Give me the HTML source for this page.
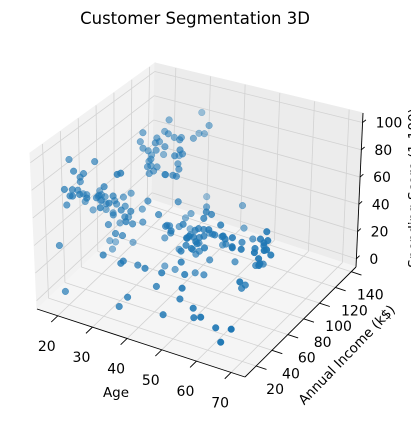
<!DOCTYPE html>
<html><head><meta charset="utf-8"><style>
html,body{margin:0;padding:0;background:#fff;}
svg{display:block;font-family:"DejaVu Sans","Liberation Sans",sans-serif;}
</style></head><body>
<svg id="chart" width="411" height="421" viewBox="0 0 411 421">
<text x="195" y="24" text-anchor="middle" font-size="16.5" fill="#000">Customer Segmentation 3D</text>
<g id="panes"></g>
<g id="grid"></g>
<g id="axes"></g>
<g id="pts"></g>
<text x="116" y="397" text-anchor="middle" font-size="13.5">Age</text>
<text transform="translate(350,358) rotate(-46)" text-anchor="middle" font-size="13.5">Annual Income (k$)</text>
<text transform="translate(418,188) rotate(-90)" text-anchor="middle" font-size="13.5">Spending Score (1-100)</text>
</svg>
<script>
const ages=[19,21,20,23,31,22,35,23,64,30,67,35,58,24,37,22,35,20,52,35,35,25,46,31,54,29,45,35,40,23,60,21,53,18,49,21,42,30,36,20,65,24,48,31,49,24,50,27,29,31,49,33,31,59,50,47,51,69,27,53,70,19,67,54,63,18,43,68,19,32,70,47,60,60,59,26,45,40,23,49,57,38,67,46,21,48,55,22,34,50,68,18,48,40,32,24,47,27,48,20,23,49,67,26,49,21,66,54,68,66,65,19,38,19,18,19,63,49,51,50,27,38,40,39,23,31,43,40,59,38,47,39,25,31,20,29,44,32,19,35,57,32,28,32,25,28,48,32,34,34,43,39,44,38,47,27,37,30,34,30,56,29,19,31,50,36,42,33,36,32,40,28,36,36,52,30,58,27,59,35,37,32,46,29,41,30,54,28,41,36,34,32,33,38,47,35,45,32,32,30];
const incomes=[15,15,16,16,17,17,18,18,19,19,19,19,20,20,20,20,21,21,23,23,24,24,25,25,28,28,28,28,29,29,30,30,33,33,33,33,34,34,37,37,38,38,39,39,39,39,40,40,40,40,42,42,43,43,43,43,44,44,46,46,46,46,47,47,48,48,48,48,48,48,49,49,50,50,54,54,54,54,54,54,54,54,54,54,54,54,57,57,58,58,59,59,60,60,60,60,60,60,61,61,62,62,62,62,62,62,63,63,63,63,63,63,64,64,65,65,65,65,67,67,67,67,69,69,70,70,71,71,71,71,71,71,72,72,73,73,73,73,74,74,75,75,76,76,77,77,77,77,78,78,78,78,78,78,78,78,78,78,78,78,79,79,81,81,85,85,86,86,87,87,87,87,87,87,88,88,88,88,93,93,97,97,98,98,99,99,101,101,103,103,103,103,113,113,120,120,126,126,137,137];
const scores=[39,81,6,77,40,76,6,94,3,72,14,99,15,77,13,79,35,66,29,98,35,73,5,73,14,82,32,61,31,87,4,73,4,92,14,81,17,73,26,75,35,92,36,61,28,65,55,47,42,42,52,60,54,60,45,41,50,46,51,46,56,55,52,59,51,59,50,48,59,47,55,42,49,56,47,54,53,48,52,42,51,55,41,44,57,46,58,55,60,46,55,41,49,40,42,52,47,50,42,49,41,48,59,55,56,42,50,46,43,48,52,54,42,46,48,50,43,59,43,57,56,40,58,91,29,77,35,95,11,75,9,75,34,71,5,88,7,73,10,72,5,93,40,87,12,97,36,74,22,90,17,88,20,76,16,89,1,78,1,73,35,83,5,93,26,75,20,95,27,63,13,75,10,92,13,86,15,69,14,90,32,86,15,88,39,97,24,68,17,85,23,69,8,91,16,79,28,74,18,83];
const xTicks=[20,30,40,50,60,70];
const yTicks=[20,40,60,80,100,120,140];
const zTicks=[0,20,40,60,80,100];
const XL=[14,74],YL=[6,146],ZL=[-6,107];
const C=[[[[37,309],[30,153]],[[152,200],[155,63]]],[[[245,377],[246,206]],[[356,267],[363,113]]]];
function P(x,y,z){
 const u=(x-XL[0])/(XL[1]-XL[0]),v=(y-YL[0])/(YL[1]-YL[0]),w=(z-ZL[0])/(ZL[1]-ZL[0]);
 const r=[0,0];
 for(let i=0;i<2;i++)for(let j=0;j<2;j++)for(let k=0;k<2;k++){
  const f=(i?u:1-u)*(j?v:1-v)*(k?w:1-w);
  r[0]+=f*C[i][j][k][0];r[1]+=f*C[i][j][k][1];
 }
 return r;
}
const NS="http://www.w3.org/2000/svg";
function mk(tag,at,parent){const e=document.createElementNS(NS,tag);for(const k in at)e.setAttribute(k,at[k]);parent.appendChild(e);return e;}
function poly(pts){return pts.map(p=>p[0].toFixed(1)+","+p[1].toFixed(1)).join(" ");}
const panes=document.getElementById('panes'),grid=document.getElementById('grid'),axes=document.getElementById('axes'),ptsG=document.getElementById('pts');
let e;
e=mk('polygon',{points:poly([P(XL[0],YL[0],ZL[0]),P(XL[0],YL[1],ZL[0]),P(XL[0],YL[1],ZL[1]),P(XL[0],YL[0],ZL[1])]),fill:'#f2f2f2',stroke:'#f2f2f2'},panes);

e=mk('polygon',{points:poly([P(XL[0],YL[1],ZL[0]),P(XL[1],YL[1],ZL[0]),P(XL[1],YL[1],ZL[1]),P(XL[0],YL[1],ZL[1])]),fill:'#ececec',stroke:'#ececec'},panes);

e=mk('polygon',{points:poly([P(XL[0],YL[0],ZL[0]),P(XL[1],YL[0],ZL[0]),P(XL[1],YL[1],ZL[0]),P(XL[0],YL[1],ZL[0])]),fill:'#f5f5f5',stroke:'#f5f5f5'},panes);

function gl(a,b){const l=mk('line',{x1:a[0],y1:a[1],x2:b[0],y2:b[1],stroke:'#d2d2d2','stroke-width':0.8},grid);
 }
xTicks.forEach(t=>{gl(P(t,YL[0],ZL[0]),P(t,YL[1],ZL[0]));gl(P(t,YL[1],ZL[0]),P(t,YL[1],ZL[1]));});
yTicks.forEach(t=>{gl(P(XL[1],t,ZL[0]),P(XL[0],t,ZL[0]));gl(P(XL[0],t,ZL[0]),P(XL[0],t,ZL[1]));});
zTicks.forEach(t=>{gl(P(XL[0],YL[0],t),P(XL[0],YL[1],t));gl(P(XL[0],YL[1],t),P(XL[1],YL[1],t));});
function al(a,b,name){const l=mk('line',{x1:a[0],y1:a[1],x2:b[0],y2:b[1],stroke:'#000','stroke-width':0.9},axes);
 }
al(P(XL[0],YL[0],ZL[0]),P(XL[1],YL[0],ZL[0]),'x-axis-line');
al(P(XL[1],YL[0],ZL[0]),P(XL[1],YL[1],ZL[0]),'y-axis-line');
al(P(XL[1],YL[1],ZL[0]),P(XL[1],YL[1],ZL[1]),'z-axis-line');
function txt(x,y,s,anchor){const t=mk('text',{x:x,y:y,'text-anchor':anchor,'font-size':14,fill:'#000'},axes);t.textContent=s;
 }
xTicks.forEach(t=>{const a=P(t,YL[0],ZL[0]),b=P(t,YL[0]-8,ZL[0]);al(a,b,'x-tick');txt(a[0]-11,a[1]+35,String(t),'middle');});
yTicks.forEach(t=>{const a=P(XL[1],t,ZL[0]),b=P(XL[1]+3,t,ZL[0]);al(a,b,'y-tick');txt(a[0]+19,a[1]+28,String(t),'middle');});
zTicks.forEach(t=>{const a=P(XL[1],YL[1],t),b=P(XL[1],YL[1]+4,t);al(a,b,'z-tick');txt(a[0]+13,a[1]+5,String(t),'start');});
const idx=ages.map((_,i)=>i);
function depth(i){return (ages[i]-XL[0])/(XL[1]-XL[0])-(incomes[i]-YL[0])/(YL[1]-YL[0]);}
idx.sort((a,b)=>depth(a)-depth(b));
const ds=idx.map(depth),dmin=Math.min(...ds),dmax=Math.max(...ds);
idx.forEach(i=>{
 const p=P(ages[i],incomes[i],scores[i]);
 const a=0.4+0.6*(depth(i)-dmin)/(dmax-dmin);
 const c=mk('circle',{cx:p[0].toFixed(1),cy:p[1].toFixed(1),r:3.3,fill:'#1f77b4','fill-opacity':a.toFixed(2),stroke:'#1f77b4','stroke-opacity':a.toFixed(2),'stroke-width':0.5},ptsG);
 
 
});
</script>
</body></html>
